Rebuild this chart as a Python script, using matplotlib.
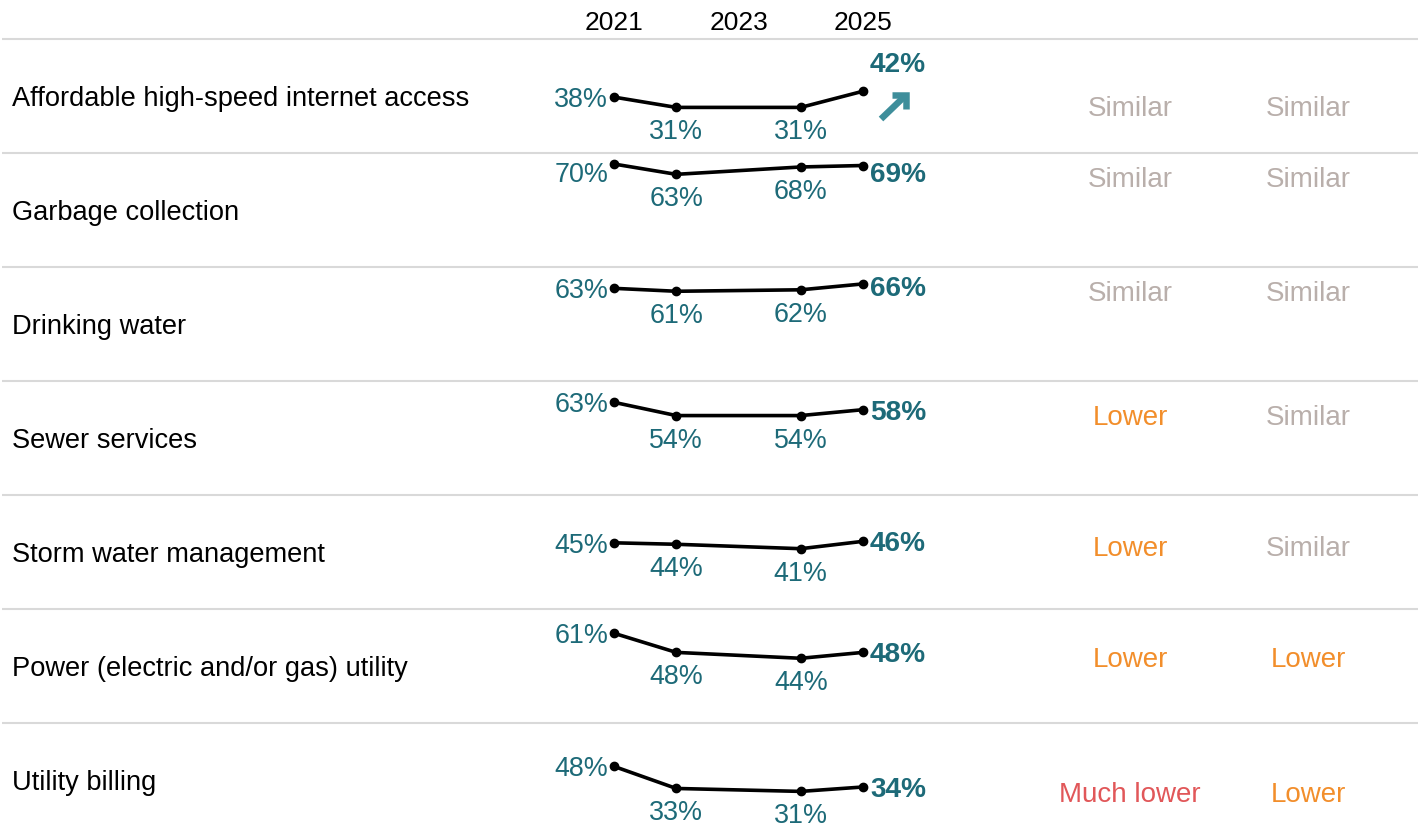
import matplotlib
matplotlib.use("Agg")
import matplotlib.pyplot as plt
from matplotlib.transforms import blended_transform_factory

plt.rcParams['font.family'] = ['Liberation Sans', 'DejaVu Sans']

# dados
years = [2021, 2022, 2024, 2025]
header_years = [2021, 2023, 2025]
categories = [
    'Affordable high-speed internet access',
    'Garbage collection',
    'Drinking water',
    'Sewer services',
    'Storm water management',
    'Power (electric and/or gas) utility',
    'Utility billing',
]
internet = [38, 31, 31, 42]
garbage = [70, 63, 68, 69]
drinking = [63, 61, 62, 66]
sewer = [63, 54, 54, 58]
storm = [45, 44, 41, 46]
power = [61, 48, 44, 48]
billing = [48, 33, 31, 34]
series = [internet, garbage, drinking, sewer, storm, power, billing]
trend = ['up', None, None, None, None, None, None]
compare_a = ['Similar', 'Similar', 'Similar', 'Lower', 'Lower', 'Lower', 'Much lower']
compare_b = ['Similar', 'Similar', 'Similar', 'Similar', 'Similar', 'Lower', 'Lower']

# estilo
W, H = 1424, 831
PX = 0.72  # pontos por pixel (dpi 100)
FS_LAB = 19.6
FS_VAL = 19.4
FS_BOLD = 20.2
FS_ST = 20
FS_HEAD = 19
VA = 'center_baseline'
teal = '#1d6a78'
arrow_col = '#3e8e9b'
status_col = {'Similar': '#b9afab', 'Lower': '#f28e2b', 'Much lower': '#e15759'}
top0, row_h = 39, 114
ymax = 77.5
label_cap = 64.5  # rotulos nao sobem acima disso
col_x = [1130, 1308]

fig = plt.figure(figsize=(W / 100, H / 100), dpi=100)

# eixo de fundo em pixels: linhas, nomes das linhas e seta de tendencia
bg = fig.add_axes([0, 0, 1, 1])
bg.set_xlim(0, W)
bg.set_ylim(H, 0)
bg.axis('off')
for i, cat in enumerate(categories):
    y_top = top0 + row_h * i
    bg.hlines(y_top, 2, 1418, color='#d9d9d9', lw=1.5)
    bg.text(12, y_top + row_h / 2, cat, fontsize=FS_LAB, va=VA, ha='left', color='black')
    if trend[i] == 'up':
        bg.plot([881, 905], [y_top + 80, y_top + 57], color=arrow_col, lw=6.5 * PX,
                solid_capstyle='butt')
        bg.plot([892, 906, 906], [y_top + 56, y_top + 56, y_top + 70], color=arrow_col,
                lw=6.5 * PX, solid_joinstyle='miter', solid_capstyle='butt')

for i, vals in enumerate(series):
    y_top = top0 + row_h * i
    y_bot = y_top + row_h
    ax = fig.add_axes([551.75 / W, 1 - y_bot / H, 373.5 / W, row_h / H])
    ax.set_xlim(2020, 2026)
    ax.set_ylim(0, ymax)
    ax.axis('off')

    ax.plot(years, vals, color='black', lw=2.6, marker='o', ms=6, clip_on=False, zorder=3)

    # primeiro valor
    ax.annotate(f'{vals[0]}%', (years[0], min(vals[0], label_cap)), xytext=(-6 * PX, 0),
                textcoords='offset points', ha='right', va=VA, fontsize=FS_VAL,
                color=teal, annotation_clip=False)
    # valores do meio
    for x, v in zip(years[1:-1], vals[1:-1]):
        ax.annotate(f'{v}%', (x, v), xytext=(0, -22 * PX), textcoords='offset points',
                    ha='center', va=VA, fontsize=FS_VAL, color=teal, annotation_clip=False)

    tr = blended_transform_factory(ax.transData, ax.transAxes)
    if trend[i] == 'up':
        ax.annotate(f'{vals[-1]}%', (years[-1], 1), xycoords=tr, xytext=(7 * PX, -23 * PX),
                    textcoords='offset points', ha='left', va=VA, fontsize=FS_BOLD,
                    fontweight='bold', color=teal, annotation_clip=False)
        st_xy = (1, 1)
        st_coords = (fig.transFigure, ax.transAxes)
        st_off = -67
    else:
        ax.annotate(f'{vals[-1]}%', (years[-1], min(vals[-1], label_cap)), xytext=(7 * PX, 0),
                    textcoords='offset points', ha='left', va=VA, fontsize=FS_BOLD,
                    fontweight='bold', color=teal, annotation_clip=False)
        st_xy = (1, min(vals[-1], label_cap))
        st_coords = (fig.transFigure, ax.transData)
        st_off = -5

    for cx, word in zip(col_x, [compare_a[i], compare_b[i]]):
        ax.annotate(word, (cx / W, st_xy[1]), xycoords=st_coords, xytext=(0, st_off * PX),
                    textcoords='offset points', ha='center', va=VA, fontsize=FS_ST,
                    color=status_col[word], annotation_clip=False)

    if i == 0:
        for yr in header_years:
            ax.annotate(str(yr), (yr, 1), xycoords=tr, xytext=(0, 19 * PX),
                        textcoords='offset points', ha='center', va=VA, fontsize=FS_HEAD,
                        color='black', annotation_clip=False)

fig.savefig('out.png', dpi=100)
